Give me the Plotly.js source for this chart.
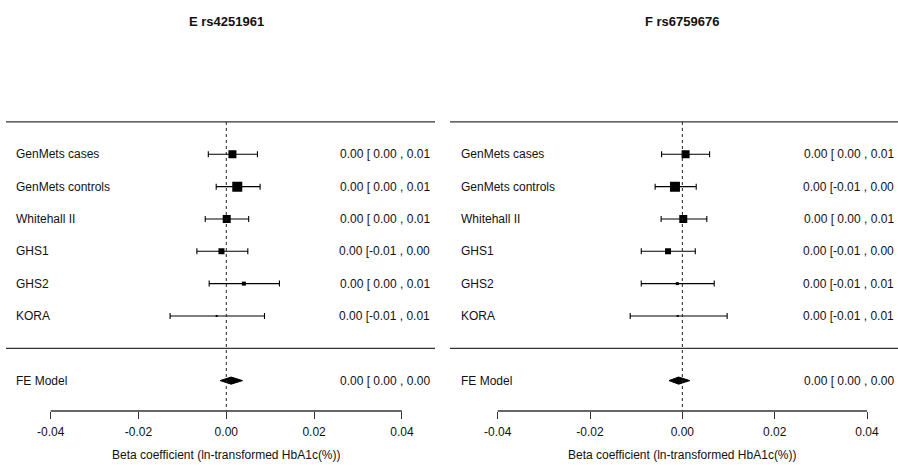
<!DOCTYPE html>
<html>
<head>
<meta charset="utf-8">
<script src="https://cdn.plot.ly/plotly-3.0.1.min.js"></script>
<style>
  html, body { margin: 0; padding: 0; background: #fff; }
  #chart { width: 898px; height: 475px; }
</style>
</head>
<body>
<div id="chart"></div>
<script>
// Study names, top to bottom
const studies = ["GenMets cases", "GenMets controls", "Whitehall II", "GHS1", "GHS2", "KORA"];

// Panel E: rs4251961 — estimates and 95% CI bounds
const estE   = [0.0014, 0.0025, 0.0001, -0.0011, 0.0040, -0.0022];
const lowE   = [-0.0041, -0.0023, -0.0048, -0.0067, -0.0039, -0.0128];
const highE  = [0.0071, 0.0077, 0.0051, 0.0049, 0.0121, 0.0087];
const feE    = { est: 0.0011, low: -0.0014, high: 0.0037 };
const textE  = ["0.00 [ 0.00 , 0.01", "0.00 [ 0.00 , 0.01", "0.00 [ 0.00 , 0.01",
                "0.00 [-0.01 , 0.00", "0.00 [ 0.00 , 0.01", "0.00 [-0.01 , 0.01"];
const feTextE = "0.00 [ 0.00 , 0.00";

// Panel F: rs6759676
const estF   = [0.0007, -0.0016, 0.0002, -0.0031, -0.0011, -0.0010];
const lowF   = [-0.0045, -0.0059, -0.0046, -0.0089, -0.0089, -0.0113];
const highF  = [0.0059, 0.0030, 0.0053, 0.0028, 0.0069, 0.0097];
const feF    = { est: -0.0008, low: -0.0029, high: 0.0016 };
const textF  = ["0.00 [ 0.00 , 0.01", "0.00 [-0.01 , 0.00", "0.00 [ 0.00 , 0.01",
                "0.00 [-0.01 , 0.00", "0.00 [-0.01 , 0.01", "0.00 [-0.01 , 0.01"];
const feTextF = "0.00 [ 0.00 , 0.00";

const panelTitles = ["E rs4251961", "F rs6759676"];
const modelLabel = "FE Model";
const xTitle = "Beta coefficient (ln-transformed HbA1c(%))";
const tickVals = [-0.04, -0.02, 0.00, 0.02, 0.04];
const tickText = ["-0.04", "-0.02", "0.00", "0.02", "0.04"];

// ---- styling / geometry ----
const W = 898, H = 475;
const FONT = "Liberation Sans, Arial, Helvetica, sans-serif";
const INK = "#111";
const boxSizes = { E: [8, 10, 8, 6, 4, 2], F: [8, 10, 8, 6, 3, 2] };
// study rows k..1, summary row at -1, separator at 0, header rule at k+1
const k = studies.length;
const rows = studies.map((_, i) => k - i);
const yRange = [-1.94, 7.5];
const yDomain = [1 - 411 / H, 1 - 105.8 / H];
const diamondHalf = 0.11;

const panels = [
  { key: "E", xa: "x",  ya: "y",  est: estE, low: lowE, high: highE, fe: feE, txt: textE, feTxt: feTextE,
    dom: [6 / W, 435 / W], range: [-0.05018, 0.04754], labX: 14 / W, valX: 432 / W, title: panelTitles[0] },
  { key: "F", xa: "x2", ya: "y2", est: estF, low: lowF, high: highF, fe: feF, txt: textF, feTxt: feTextF,
    dom: [450 / W, 1], range: [-0.05033, 0.04671], labX: 459 / W, valX: 896 / W, title: panelTitles[1] }
];

const traces = [];
const shapes = [];
const annotations = [];
const layout = {
  width: W, height: H,
  margin: { l: 0, r: 0, t: 0, b: 0 },
  paper_bgcolor: "#fff", plot_bgcolor: "#fff",
  showlegend: false,
  font: { family: FONT, size: 12, color: INK }
};

panels.forEach((p) => {
  const axSuffix = p.xa === "x" ? "" : "2";
  // study estimates with CI whiskers
  traces.push({
    type: "scatter", mode: "markers", xaxis: p.xa, yaxis: p.ya,
    x: p.est, y: rows,
    marker: { symbol: "square", size: boxSizes[p.key], color: "#000", opacity: 1, line: { width: 0 } },
    error_x: {
      type: "data", symmetric: false,
      array: p.high.map((h, i) => h - p.est[i]),
      arrayminus: p.est.map((e, i) => e - p.low[i]),
      width: 3, thickness: 1.1, color: "#000"
    },
    hoverinfo: "skip"
  });
  // pooled estimate diamond
  traces.push({
    type: "scatter", mode: "lines", xaxis: p.xa, yaxis: p.ya,
    x: [p.fe.low, p.fe.est, p.fe.high, p.fe.est, p.fe.low],
    y: [-1, -1 + diamondHalf, -1, -1 - diamondHalf, -1],
    fill: "toself", fillcolor: "#000", line: { color: "#000", width: 1 },
    hoverinfo: "skip"
  });

  layout["xaxis" + axSuffix] = {
    domain: p.dom, range: p.range, anchor: p.ya,
    showgrid: false, zeroline: false, showline: false,
    ticks: "outside", ticklen: 7, tickwidth: 1, tickcolor: "#333",
    ticklabelstandoff: 3,
    tickvals: tickVals, ticktext: tickText,
    tickfont: { family: FONT, size: 12, color: INK },
    fixedrange: true
  };
  layout["yaxis" + axSuffix] = {
    domain: yDomain, range: yRange, anchor: p.xa,
    visible: false, fixedrange: true
  };

  const xdom = p.xa + " domain";
  const ydom = p.ya + " domain";
  // header rule and separator above the summary row
  [k + 1, 0].forEach((yy) => shapes.push({
    type: "line", xref: xdom, yref: p.ya, x0: 0, x1: 1, y0: yy, y1: yy,
    line: { color: "#333", width: 1.3 }
  }));
  // reference line at zero
  shapes.push({
    type: "line", xref: p.xa, yref: p.ya, x0: 0, x1: 0, y0: k + 1, y1: yRange[0],
    line: { color: "#222", width: 1, dash: "dot" }
  });
  // axis line spanning the tick range
  shapes.push({
    type: "line", xref: p.xa, yref: ydom, x0: tickVals[0], x1: tickVals[tickVals.length - 1], y0: 0, y1: 0,
    line: { color: "#333", width: 1.3 }
  });

  // study labels and value columns
  studies.forEach((s, i) => {
    annotations.push({ xref: "paper", yref: p.ya, x: p.labX, y: rows[i], text: s,
      xanchor: "left", yanchor: "middle", showarrow: false, font: { family: FONT, size: 12, color: INK } });
    annotations.push({ xref: "paper", yref: p.ya, x: p.valX, y: rows[i], text: p.txt[i],
      xanchor: "right", yanchor: "middle", showarrow: false, font: { family: FONT, size: 12, color: INK } });
  });
  annotations.push({ xref: "paper", yref: p.ya, x: p.labX, y: -1, text: modelLabel,
    xanchor: "left", yanchor: "middle", showarrow: false, font: { family: FONT, size: 12, color: INK } });
  annotations.push({ xref: "paper", yref: p.ya, x: p.valX, y: -1, text: p.feTxt,
    xanchor: "right", yanchor: "middle", showarrow: false, font: { family: FONT, size: 12, color: INK } });

  // panel title and axis title
  annotations.push({ xref: p.xa, yref: "paper", x: 0, y: 1 - 22 / H, text: "<b>" + p.title + "</b>",
    xanchor: "center", yanchor: "middle", showarrow: false, font: { family: FONT, size: 13, color: INK } });
  annotations.push({ xref: p.xa, yref: "paper", x: 0, y: 1 - 455 / H, text: xTitle,
    xanchor: "center", yanchor: "middle", showarrow: false, font: { family: FONT, size: 12, color: INK } });
});

layout.shapes = shapes;
layout.annotations = annotations;

Plotly.newPlot("chart", traces, layout, { staticPlot: true, displayModeBar: false });
</script>
</body>
</html>
